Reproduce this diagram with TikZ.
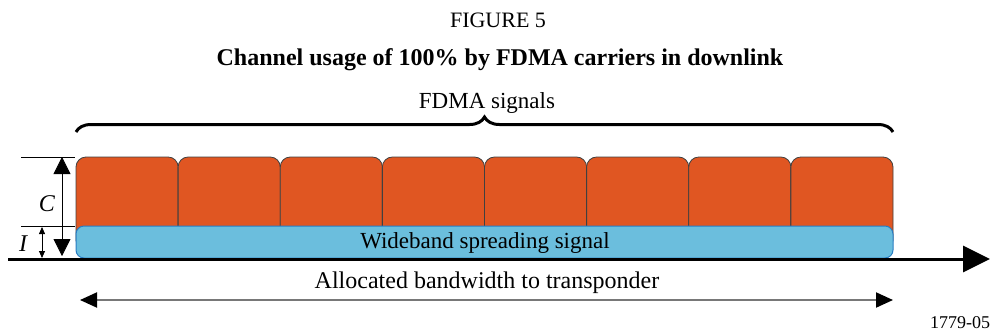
\documentclass[tikz,border=0pt]{standalone}
\usepackage{fontspec}
\setmainfont{Liberation Serif}
\usetikzlibrary{arrows.meta,decorations.pathreplacing}
\definecolor{carrierOrange}{RGB}{224,86,34}
\definecolor{spreadBlue}{RGB}{107,190,221}
\definecolor{spreadEdge}{RGB}{40,125,195}
\definecolor{axisGray}{RGB}{120,120,120}

\tikzset{
    carrier/.style={fill=carrierOrange, draw=black!75, line width=0.8pt, rounded corners=10pt},
    label/.style={font=\fontsize{23}{26}\selectfont, anchor=base, inner sep=0pt},
    dimline/.style={line width=0.8pt}
}

\begin{document}
\begin{tikzpicture}[x=1pt,y=-1pt]
    \useasboundingbox (0,0) rectangle (994,333);
    % headings
    \node[label, font=\fontsize{22}{26}\selectfont] (fig) at (498,27) {FIGURE 5};
    \node[label, font=\fontsize{24}{28}\selectfont\bfseries] (title) at (500,65) {Channel usage of 100\% by FDMA carriers in downlink};
    % brace over the carriers
    \draw[line width=3pt, decorate, decoration={brace, amplitude=15pt}] (76,132) -- (893,132);
    \node[label] (fdma) at (487,108) {FDMA signals};
    % FDMA carriers
    \foreach \i in {0,...,7} {
        \draw[carrier] ({76+\i*102.125},250) rectangle ({76+(\i+1)*102.125},157);
    }
    % wideband signal
    \node[draw=spreadEdge, fill=spreadBlue, line width=1pt, rounded corners=8pt, minimum width=817pt, minimum height=32pt, inner sep=0pt] (wide) at (484.5,242) {};
    \node[label] (widetext) at (485,248) {Wideband spreading signal};
    % frequency axis
    \coordinate (axisL) at (8,259);
    \coordinate (axisR) at (990,259);
    \draw[line width=3pt, -{Triangle[length=27pt, width=26pt]}] (axisL) -- (axisR);
    % C and I levels
    \coordinate (topC) at (21,157);
    \coordinate (topI) at (21,226);
    \draw[dimline] (topC) -- (75,157);
    \draw[dimline] (topI) -- (75,226);
    \coordinate (cUp) at (62,157);
    \coordinate (cDown) at (62,256);
    \draw[dimline, {Triangle[length=17pt, width=17pt]}-{Triangle[length=17pt, width=17pt]}] (cUp) -- (cDown);
    \coordinate (iUp) at (42,227);
    \coordinate (iDown) at (42,258);
    \draw[dimline, {Triangle[length=7pt, width=6pt]}-{Triangle[length=7pt, width=6pt]}] (iUp) -- (iDown);
    \node[label, font=\fontsize{24}{28}\selectfont\itshape] (cLab) at (47,211) {C};
    \node[label, font=\fontsize{24}{28}\selectfont\itshape] (iLab) at (23,251) {I};
    % allocated bandwidth
    \coordinate (bwL) at (80,300);
    \coordinate (bwR) at (893,300);
    \draw[axisGray, line width=2pt, {Triangle[length=17pt, width=15pt, fill=black, color=black]}-{Triangle[length=17pt, width=15pt, fill=black, color=black]}] (bwL) -- (bwR);
    \node[label, font=\fontsize{24}{28}\selectfont] (bwtext) at (487,288) {Allocated bandwidth to transponder};
    \node[label, font=\fontsize{18}{20}\selectfont] (ref) at (960,328) {1779-05};
\end{tikzpicture}
\end{document}
